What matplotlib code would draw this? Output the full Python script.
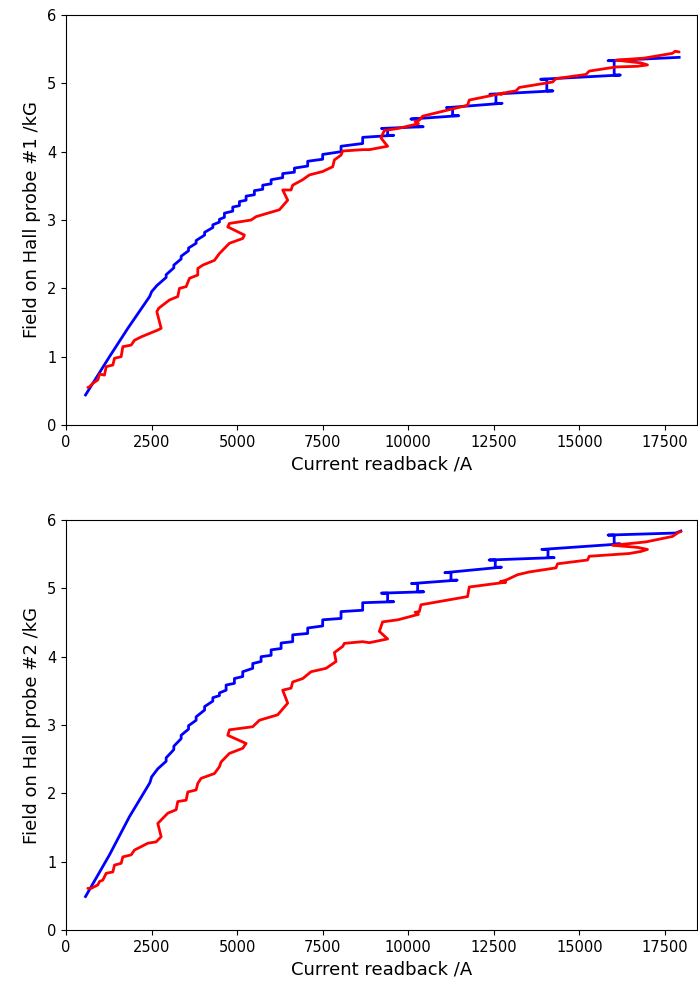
import matplotlib
matplotlib.use('Agg')
import matplotlib.pyplot as plt

# ---- Hall probe #1 ----
# ramp up: smooth start, then steps (current, field before step, field after step)
up1_start_I = [570, 1270, 1806, 2439, 2460, 2500, 2653]
up1_start_B = [0.44, 1.00, 1.415, 1.877, 1.90, 1.95, 2.04]
up1_step_I = [2926, 3150, 3364, 3580, 3802, 4050, 4290, 4483, 4629, 4872, 5067, 5262,
              5505, 5748, 5993, 6332, 6674, 7062, 7500, 8037, 8669, 9398, 10257,
              11297, 12564, 14050, 16019]
up1_step_lo = [2.16, 2.30, 2.43, 2.55, 2.66, 2.78, 2.89, 2.97, 3.04, 3.13, 3.21, 3.29,
               3.37, 3.45, 3.53, 3.62, 3.70, 3.79, 3.89, 4.00, 4.12, 4.24, 4.366,
               4.527, 4.708, 4.89, 5.122]
up1_step_hi = [2.20, 2.34, 2.47, 2.59, 2.70, 2.82, 2.93, 3.01, 3.10, 3.19, 3.27, 3.35,
               3.43, 3.51, 3.59, 3.68, 3.76, 3.86, 3.96, 4.08, 4.21, 4.34, 4.478,
               4.644, 4.84, 5.06, 5.332]
up1_end_I = [17918]
up1_end_B = [5.381]

down1_I = [17918, 17800, 17722, 16900, 16067, 16800, 16992, 16700, 16067, 15290, 15193,
           14317, 14220, 13245, 13148, 12900, 12700, 12800, 11784, 11735, 10420, 10324,
           10200, 10300, 9700, 9300, 9205, 9398, 8864, 8669, 8084, 8037, 7842, 7793,
           7500, 7112, 6916, 6624, 6576, 6332, 6478, 6235, 5555, 5408, 4775, 4726,
           5213, 5164, 4775, 4580, 4483, 4337, 3996, 3850, 3850, 3607, 3510, 3315,
           3265, 3023, 2711, 2653, 2780, 2682, 2439, 2196, 2000, 1904, 1660, 1611,
           1416, 1368, 1173, 1124, 978, 930, 783, 686, 637]
down1_B = [5.46, 5.47, 5.44, 5.37, 5.34, 5.30, 5.27, 5.25, 5.24, 5.18, 5.13,
           5.07, 5.02, 4.94, 4.89, 4.87, 4.84, 4.86, 4.756, 4.68, 4.52, 4.46,
           4.44, 4.41, 4.34, 4.31, 4.20, 4.08, 4.03, 4.03, 4.01, 3.95, 3.88, 3.78,
           3.71, 3.66, 3.59, 3.51, 3.44, 3.44, 3.29, 3.15, 3.05, 3.00, 2.95, 2.90,
           2.78, 2.73, 2.66, 2.56, 2.51, 2.41, 2.34, 2.29, 2.195, 2.147, 2.025, 2.00,
           1.88, 1.83, 1.71, 1.66, 1.415, 1.39, 1.34, 1.29, 1.24, 1.17, 1.146, 1.00,
           0.976, 0.878, 0.854, 0.73, 0.746, 0.66, 0.61, 0.56, 0.55]

# ---- Hall probe #2 ----
up2_start_I = [570, 1270, 1855, 2439, 2460, 2500, 2682]
up2_start_B = [0.49, 1.10, 1.66, 2.146, 2.17, 2.24, 2.36]
up2_step_I = [2926, 3150, 3364, 3580, 3802, 4050, 4290, 4483, 4678, 4921, 5164, 5456,
              5700, 5993, 6285, 6624, 7062, 7500, 8037, 8669, 9398, 10275, 11250,
              12544, 14085, 16019]
up2_step_lo = [2.47, 2.64, 2.80, 2.94, 3.07, 3.22, 3.35, 3.43, 3.51, 3.61, 3.71, 3.83,
               3.93, 4.02, 4.12, 4.22, 4.34, 4.45, 4.56, 4.68, 4.805, 4.95, 5.12,
               5.31, 5.45, 5.65]
up2_step_hi = [2.52, 2.69, 2.85, 2.99, 3.12, 3.27, 3.40, 3.47, 3.585, 3.68, 3.78, 3.90,
               4.00, 4.10, 4.20, 4.32, 4.42, 4.54, 4.66, 4.79, 4.93, 5.07, 5.23,
               5.415, 5.57, 5.78]
up2_end_I = [17820, 17967]
up2_end_B = [5.81, 5.84]

down2_I = [17967, 17900, 17722, 16944, 15970, 16700, 16992, 16800, 16457, 15290, 15241,
           14365, 14317, 13536, 13196, 12856, 12700, 12850, 11784, 11735, 10372, 10324,
           10200, 10300, 9700, 9252, 9156, 9398, 8864, 8669, 8133, 8084, 7842, 7891,
           7599, 7160, 6916, 6624, 6576, 6332, 6478, 6186, 5651, 5456, 4775, 4726,
           5262, 5164, 4775, 4532, 4483, 4337, 3948, 3850, 3802, 3558, 3510, 3265,
           3218, 2974, 2682, 2780, 2634, 2390, 2000, 1904, 1660, 1611, 1416, 1368,
           1173, 1075, 978, 930, 735, 637]
down2_B = [5.83, 5.82, 5.76, 5.68, 5.63, 5.60, 5.57, 5.54, 5.51, 5.47, 5.415,
           5.36, 5.30, 5.24, 5.20, 5.12, 5.10, 5.09, 5.02, 4.88, 4.76, 4.66,
           4.65, 4.62, 4.54, 4.51, 4.37, 4.26, 4.205, 4.22, 4.195, 4.15, 4.06, 3.93,
           3.83, 3.78, 3.68, 3.63, 3.54, 3.51, 3.32, 3.15, 3.07, 2.975, 2.93, 2.85,
           2.73, 2.66, 2.585, 2.46, 2.39, 2.29, 2.22, 2.146, 2.05, 2.02, 1.90, 1.88,
           1.76, 1.71, 1.56, 1.365, 1.29, 1.27, 1.17, 1.10, 1.07, 0.976, 0.95, 0.85,
           0.83, 0.73, 0.71, 0.66, 0.61, 0.61]

xticks = [0, 2500, 5000, 7500, 10000, 12500, 15000, 17500]
yticks = [0, 1, 2, 3, 4, 5, 6]


def ramp_up(start_I, start_B, step_I, step_lo, step_hi, end_I, end_B):
    # join the recorded plateaus into one trace; high-current steps overshoot a bit
    xs = list(start_I)
    ys = list(start_B)
    for I, lo, hi in zip(step_I, step_lo, step_hi):
        o = 180 if I > 9000 else 0
        xs += [I + o, I, I, I - o]
        ys += [lo, lo, hi, hi]
    xs += end_I
    ys += end_B
    return xs, ys


fig = plt.figure(figsize=(6.98, 9.9), dpi=100)
ax1 = fig.add_axes([0.0946, 0.5707, 0.9040, 0.4141])
ax2 = fig.add_axes([0.0946, 0.0606, 0.9040, 0.4141])

panels = [
    (ax1, ramp_up(up1_start_I, up1_start_B, up1_step_I, up1_step_lo, up1_step_hi, up1_end_I, up1_end_B),
     down1_I, down1_B, 'Field on Hall probe #1 /kG'),
    (ax2, ramp_up(up2_start_I, up2_start_B, up2_step_I, up2_step_lo, up2_step_hi, up2_end_I, up2_end_B),
     down2_I, down2_B, 'Field on Hall probe #2 /kG'),
]

for ax, (ux, uy), dx, dy, lab in panels:
    ax.plot(ux, uy, color='blue', lw=2)
    ax.plot(dx, dy, color='red', lw=2, solid_joinstyle='round', solid_capstyle='round')
    ax.set_xlim(0, 18440)
    ax.set_ylim(0, 6)
    ax.set_xticks(xticks)
    ax.set_yticks(yticks)
    ax.tick_params(labelsize=10.5)
    ax.set_xlabel('Current readback /A', fontsize=13)
    ax.set_ylabel(lab, fontsize=13)

fig.savefig('out.png', dpi=100)
